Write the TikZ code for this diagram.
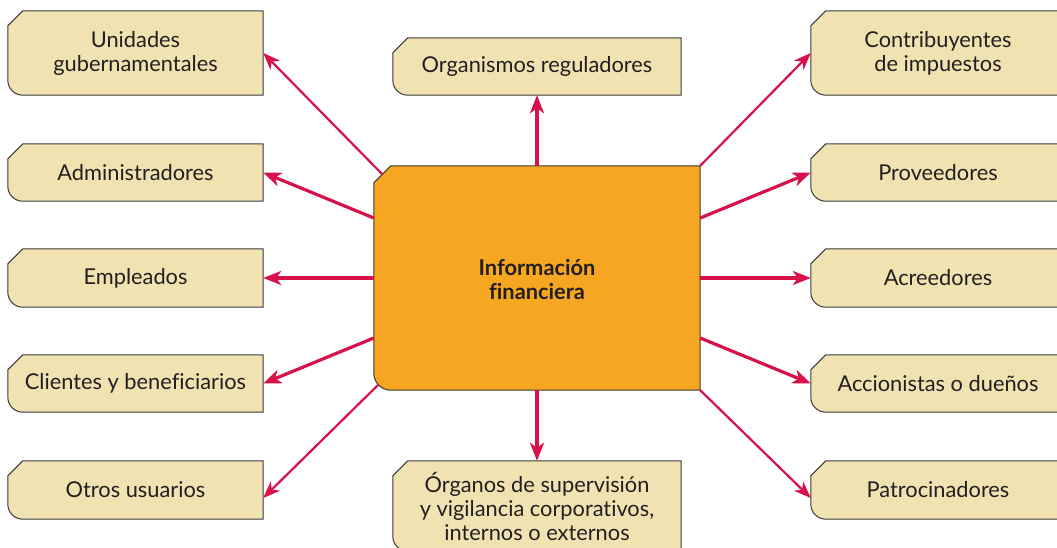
\documentclass[tikz,border=0pt]{standalone}
\usepackage{fontspec}
\setmainfont[Ligatures=NoCommon]{Lato}
\usetikzlibrary{arrows.meta,calc}
\definecolor{cream}{HTML}{F1E3B1}
\definecolor{orng}{HTML}{F6A620}
\definecolor{crim}{HTML}{D7124A}
\definecolor{edge}{HTML}{3A3A3A}
\definecolor{ink}{HTML}{231F20}
\newcommand\tagshape[4]{% name, cut, radius, fill
  \draw[line width=1pt, draw=edge, fill=#4]
    ([yshift=-#2]#1.north west) -- ([xshift=#2]#1.north west) -- (#1.north east)
    -- (#1.south east) -- ([xshift=#3]#1.south west)
    arc[start angle=270, end angle=180, radius=#3] -- cycle;}
\begin{document}
\begin{tikzpicture}[x=1pt,y=-1pt,
  lbl/.style={inner sep=0pt, align=center, text=ink, font=\fontsize{21.8}{24}\selectfont},
  bold lbl/.style={lbl, font=\fontsize{21.8}{24}\bfseries\selectfont},
  thickarrow/.style={draw=crim, line width=3.2pt, -{Stealth[length=18pt,width=14pt,inset=5pt]}},
  thinarrow/.style={draw=crim, line width=2.2pt, -{Stealth[length=17pt,width=13pt,inset=5pt]}}]
\useasboundingbox (0,0) rectangle (1057,548);
\clip (0,0) rectangle (1057,548);
% left column
\node[minimum width=255pt, minimum height=84pt] (uni) at (135.5,53) {};
\node[minimum width=255pt, minimum height=57pt] (adm) at (135.5,172.5) {};
\node[minimum width=255pt, minimum height=58pt] (emp) at (135.5,278) {};
\node[minimum width=255pt, minimum height=57pt] (cli) at (135.5,383.5) {};
\node[minimum width=255pt, minimum height=58pt] (otr) at (135.5,490) {};
% right column
\node[minimum width=254pt, minimum height=84pt] (con) at (938,53) {};
\node[minimum width=254pt, minimum height=57pt] (pro) at (938,172.5) {};
\node[minimum width=254pt, minimum height=58pt] (acr) at (938,278) {};
\node[minimum width=254pt, minimum height=57pt] (acc) at (938,383.5) {};
\node[minimum width=254pt, minimum height=58pt] (pat) at (938,490) {};
% center column
\node[minimum width=288pt, minimum height=57pt] (org) at (537,66.5) {};
\node[minimum width=288pt, minimum height=90pt] (sup) at (537,506) {};
\node[minimum width=326pt, minimum height=224pt] (inf) at (537,278) {};
% shapes
\foreach \n in {uni,adm,emp,cli,otr,con,pro,acr,acc,pat,org,sup}{\tagshape{\n}{15pt}{15pt}{cream}}
\tagshape{inf}{17pt}{17pt}{orng}
% texts
\node[lbl] (tuni) at (uni) {Unidades\\gubernamentales};
\node[lbl] (tadm) at (adm) {Administradores};
\node[lbl] (temp) at (emp) {Empleados};
\node[lbl] (tcli) at (cli) {Clientes y beneficiarios};
\node[lbl] (totr) at (otr) {Otros usuarios};
\node[lbl] (tcon) at (con) {Contribuyentes\\de impuestos};
\node[lbl] (tpro) at (pro) {Proveedores};
\node[lbl] (tacr) at (acr) {Acreedores};
\node[lbl] (tacc) at (acc) {Accionistas o dueños};
\node[lbl] (tpat) at (pat) {Patrocinadores};
\node[lbl] (torg) at (org) {Organismos reguladores};
\node[lbl] (tsup) at (sup) {Órganos de supervisión\\y vigilancia corporativos,\\internos o externos};
\node[bold lbl] (tinf) at ([yshift=-2pt]inf.center) {Información\\financiera};
% arrows
\draw[thinarrow] ($(inf.north west)+(8.5pt,-8.5pt)$) -- (uni.east);
\draw[thickarrow] ([yshift=60pt]inf.west) -- (adm.east);
\draw[thickarrow] (inf.west) -- (emp.east);
\draw[thickarrow] ([yshift=-60pt]inf.west) -- (cli.east);
\draw[thinarrow] ($(inf.south west)+(4pt,5pt)$) -- ([yshift=-8pt]otr.east);
\draw[thinarrow] (inf.north east) -- (con.west);
\draw[thickarrow] ([yshift=60pt]inf.east) -- (pro.west);
\draw[thickarrow] (inf.east) -- (acr.west);
\draw[thickarrow] ([yshift=-60pt]inf.east) -- (acc.west);
\draw[thinarrow] (inf.south east) -- ([yshift=-8pt]pat.west);
\draw[thickarrow] (inf.north) -- (org.south);
\draw[thickarrow] (inf.south) -- (sup.north);
\end{tikzpicture}
\end{document}
